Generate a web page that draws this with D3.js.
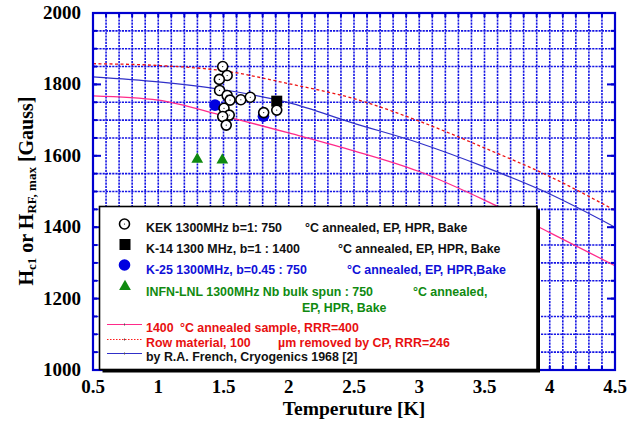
<!DOCTYPE html>
<html>
<head>
<meta charset="utf-8">
<script src="https://cdn.jsdelivr.net/npm/d3@7"></script>
<style>
  body { margin: 0; background: #fff; }
  svg text { font-family: "Liberation Sans", Arial, sans-serif; }
  .serif { font-family: "Liberation Serif", "Times New Roman", serif; font-weight: bold; }
</style>
</head>
<body>
<div id="chart"></div>
<script>
// Curves (temperature in K, field in Gauss)
const curveT = [0.5, 1.0, 1.5, 2.0, 2.5, 3.0, 3.5, 4.0, 4.5];
const annealed1400 = [1768, 1756, 1712, 1664, 1614, 1556, 1476, 1385, 1292];
const rowMaterial = [1858, 1853, 1838, 1802, 1760, 1697, 1622, 1542, 1447];
const frenchCurve = [1821, 1807, 1785, 1749, 1691, 1636, 1569, 1493, 1400];

// Measured points
const kekT = [1.494, 1.528, 1.468, 1.470, 1.528, 1.550, 1.633, 1.705, 1.504, 1.544, 1.494, 1.521, 1.808, 1.908];
const kekH = [1850, 1825, 1814, 1783, 1769, 1756, 1757, 1764, 1733, 1714, 1710, 1686, 1721, 1728];
const k14T = [1.908];
const k14H = [1753];
const k25T = [1.435, 1.806];
const k25H = [1742, 1711];
const infnT = [1.299, 1.491];
const infnH = [1590, 1588];

const xTicks = [0.5, 1, 1.5, 2, 2.5, 3, 3.5, 4, 4.5];
const yTicks = [1000, 1200, 1400, 1600, 1800, 2000];

const W = 632, H = 422;
const margin = { top: 13, right: 17, bottom: 52, left: 93 };

const svg = d3.select("#chart").append("svg")
  .attr("width", W)
  .attr("height", H);

const x = d3.scaleLinear().domain([0.5, 4.5]).range([margin.left, W - margin.right]);
const y = d3.scaleLinear().domain([1000, 2000]).range([H - margin.bottom, margin.top]);

const axisBlue = "#0000d0";
const gridBlue = "#1414e4";

// grid: every 0.1 K vertically, every 50 G horizontally (not on the 200 marks)
const gridX = d3.range(6, 45).map(d => d / 10);
const gridY = d3.range(1050, 2000, 50).filter(d => d % 200 !== 0);

svg.append("g").selectAll("line")
  .data(gridX)
  .enter().append("line")
  .attr("x1", d => x(d)).attr("x2", d => x(d))
  .attr("y1", y(2000)).attr("y2", y(1000))
  .attr("stroke", gridBlue)
  .attr("stroke-width", 1.6)
  .attr("stroke-dasharray", "2.2,1");

svg.append("g").selectAll("line")
  .data(gridY)
  .enter().append("line")
  .attr("x1", x(0.5)).attr("x2", x(4.5))
  .attr("y1", d => y(d)).attr("y2", d => y(d))
  .attr("stroke", gridBlue)
  .attr("stroke-width", 1.6)
  .attr("stroke-dasharray", "2.2,1");

// curves
const line = d3.line()
  .x(d => x(d[0]))
  .y(d => y(d[1]))
  .curve(d3.curveMonotoneX);

function drawCurve(values, color, width, dash) {
  svg.append("path")
    .datum(curveT.map((t, i) => [t, values[i]]))
    .attr("fill", "none")
    .attr("stroke", color)
    .attr("stroke-width", width)
    .attr("stroke-dasharray", dash)
    .attr("d", line);
}
drawCurve(rowMaterial, "#ee1111", 1.3, "3,2.5");
drawCurve(frenchCurve, "#3030c8", 1.2, null);
drawCurve(annealed1400, "#ff2a8a", 1.3, null);

// frame and ticks
const plot = svg.append("g");
plot.append("rect")
  .attr("x", x(0.5)).attr("y", y(2000))
  .attr("width", x(4.5) - x(0.5))
  .attr("height", y(1000) - y(2000))
  .attr("fill", "none")
  .attr("stroke", axisBlue)
  .attr("stroke-width", 2.2);

const minorX = d3.range(5, 46).map(d => d / 10);
const minorY = d3.range(1000, 2001, 50);

function tickSet(vals, pos, len) {
  plot.append("g").selectAll("line")
    .data(vals)
    .enter().append("line")
    .each(function(d) {
      const s = d3.select(this);
      if (pos === "top" || pos === "bottom") {
        const y0 = pos === "top" ? y(2000) : y(1000);
        const dir = pos === "top" ? 1 : -1;
        s.attr("x1", x(d)).attr("x2", x(d)).attr("y1", y0).attr("y2", y0 + dir * len);
      } else {
        const x0 = pos === "left" ? x(0.5) : x(4.5);
        const dir = pos === "left" ? 1 : -1;
        s.attr("y1", y(d)).attr("y2", y(d)).attr("x1", x0).attr("x2", x0 + dir * len);
      }
    })
    .attr("stroke", axisBlue)
    .attr("stroke-width", 2);
}
tickSet(minorX, "top", 4);
tickSet(minorX, "bottom", 4);
tickSet(minorY, "left", 4);
tickSet(minorY, "right", 4);
tickSet(yTicks, "left", 8);
tickSet(yTicks, "right", 8);

// tick labels
svg.append("g").selectAll("text")
  .data(xTicks)
  .enter().append("text")
  .attr("class", "serif")
  .attr("x", d => x(d))
  .attr("y", 393)
  .attr("text-anchor", "middle")
  .attr("font-size", 19)
  .text(d => d);

svg.append("g").selectAll("text")
  .data(yTicks)
  .enter().append("text")
  .attr("class", "serif")
  .attr("x", 81)
  .attr("y", d => y(d) + 6)
  .attr("text-anchor", "end")
  .attr("font-size", 19)
  .text(d => d);

// axis titles
svg.append("text")
  .attr("class", "serif")
  .attr("x", x(2.5))
  .attr("y", 415)
  .attr("text-anchor", "middle")
  .attr("font-size", 19.5)
  .text("Temperuture [K]");

const yt = svg.append("text")
  .attr("class", "serif")
  .attr("transform", "translate(33,191) rotate(-90)")
  .attr("text-anchor", "middle")
  .attr("font-size", 20);
yt.append("tspan").text("H");
yt.append("tspan").attr("font-size", 13).attr("dy", 3).text("c1");
yt.append("tspan").attr("dy", -3).text(" or H");
yt.append("tspan").attr("font-size", 13).attr("dy", 3).text("RF, max");
yt.append("tspan").attr("dy", -3).text(" [Gauss]");

// data points
svg.append("g").selectAll("rect")
  .data(k14T.map((t, i) => [t, k14H[i]]))
  .enter().append("rect")
  .attr("x", d => x(d[0]) - 5.5).attr("y", d => y(d[1]) - 5.5)
  .attr("width", 11).attr("height", 11)
  .attr("fill", "#000");

svg.append("g").selectAll("circle")
  .data(k25T.map((t, i) => [t, k25H[i]]))
  .enter().append("circle")
  .attr("cx", d => x(d[0])).attr("cy", d => y(d[1]))
  .attr("r", 5.8)
  .attr("fill", "#0000e0");

const kek = svg.append("g").selectAll("g")
  .data(kekT.map((t, i) => [t, kekH[i]]))
  .enter().append("g");
kek.append("circle")
  .attr("cx", d => x(d[0])).attr("cy", d => y(d[1]))
  .attr("r", 5)
  .attr("fill", "#fff")
  .attr("stroke", "#000")
  .attr("stroke-width", 1.6);
kek.append("circle")
  .attr("cx", d => x(d[0])).attr("cy", d => y(d[1]))
  .attr("r", 0.6)
  .attr("fill", "#000");

const tri = d3.symbol().type(d3.symbolTriangle).size(60);
svg.append("g").selectAll("path")
  .data(infnT.map((t, i) => [t, infnH[i]]))
  .enter().append("path")
  .attr("transform", d => `translate(${x(d[0])},${y(d[1])})`)
  .attr("d", tri)
  .attr("fill", "#108a10");

// legend box
const lg = svg.append("g");
lg.append("rect")
  .attr("x", 102.5).attr("y", 209.5)
  .attr("width", 437.5).attr("height", 163)
  .attr("fill", "#000");
lg.append("rect")
  .attr("x", 99.5).attr("y", 206.5)
  .attr("width", 437.5).attr("height", 163)
  .attr("fill", "#fff")
  .attr("stroke", "#000")
  .attr("stroke-width", 1.6);

const legendRows = [
  { name: "KEK 1300MHz b=1: 750", tail: "°C annealed, EP, HPR, Bake", tailX: 305, base: 232, color: "#111", marker: "open" },
  { name: "K-14 1300 MHz, b=1 : 1400", tail: "°C annealed, EP, HPR, Bake", tailX: 338, base: 253, color: "#111", marker: "square" },
  { name: "K-25 1300MHz, b=0.45 : 750", tail: "°C annealed, EP, HPR,Bake", tailX: 347, base: 274, color: "#1010d8", marker: "blue" },
  { name: "INFN-LNL 1300MHz Nb bulk spun : 750", tail: "°C annealed,", tailX: 413, base: 295.5, color: "#108a10", marker: "tri" }
];

const fs = 12.4;
legendRows.forEach(r => {
  const my = r.base - 8;
  if (r.marker === "open") {
    lg.append("circle").attr("cx", 124.5).attr("cy", my).attr("r", 5)
      .attr("fill", "#fff").attr("stroke", "#000").attr("stroke-width", 1.6);
    lg.append("circle").attr("cx", 124.5).attr("cy", my).attr("r", 0.6).attr("fill", "#000");
  } else if (r.marker === "square") {
    lg.append("rect").attr("x", 119.5).attr("y", my - 6).attr("width", 11).attr("height", 11).attr("fill", "#000");
  } else if (r.marker === "blue") {
    lg.append("circle").attr("cx", 124.5).attr("cy", my - 1).attr("r", 5.8).attr("fill", "#0000e0");
  } else {
    lg.append("path").attr("transform", `translate(125,${my - 1})`).attr("d", tri).attr("fill", "#108a10");
  }
  lg.append("text").attr("x", 146).attr("y", r.base)
    .attr("font-size", fs).attr("font-weight", "bold").attr("fill", r.color).text(r.name);
  lg.append("text").attr("x", r.tailX).attr("y", r.base)
    .attr("font-size", fs).attr("font-weight", "bold").attr("fill", r.color).text(r.tail);
});
lg.append("text").attr("x", 302).attr("y", 311.5)
  .attr("font-size", fs).attr("font-weight", "bold").attr("fill", "#108a10").text("EP, HPR, Bake");

const lineRows = [
  { a: "1400", b: "°C annealed sample, RRR=400", bx: 180, base: 332, color: "#e81010", stroke: "#ff2a8a", dash: null },
  { a: "Row material, 100", b: "µm removed by CP, RRR=246", bx: 278, base: 347, color: "#e81010", stroke: "#ff1a1a", dash: "1.5,1.5" },
  { a: "by R.A. French, Cryogenics 1968 [2]", b: "", bx: 0, base: 361, color: "#111", stroke: "#3030c8", dash: null }
];
lineRows.forEach(r => {
  const ly = r.base - 7.5;
  lg.append("line").attr("x1", 107).attr("x2", 142).attr("y1", ly).attr("y2", ly)
    .attr("stroke", r.stroke).attr("stroke-width", 1.2).attr("stroke-dasharray", r.dash);
  lg.append("line").attr("x1", 124.5).attr("x2", 124.5).attr("y1", ly - 1).attr("y2", ly + 1)
    .attr("stroke", "#555").attr("stroke-width", 1);
  lg.append("text").attr("x", 146).attr("y", r.base)
    .attr("font-size", fs).attr("font-weight", "bold").attr("fill", r.color).text(r.a);
  if (r.b) {
    lg.append("text").attr("x", r.bx).attr("y", r.base)
      .attr("font-size", fs).attr("font-weight", "bold").attr("fill", r.color).text(r.b);
  }
});
</script>
</body>
</html>
